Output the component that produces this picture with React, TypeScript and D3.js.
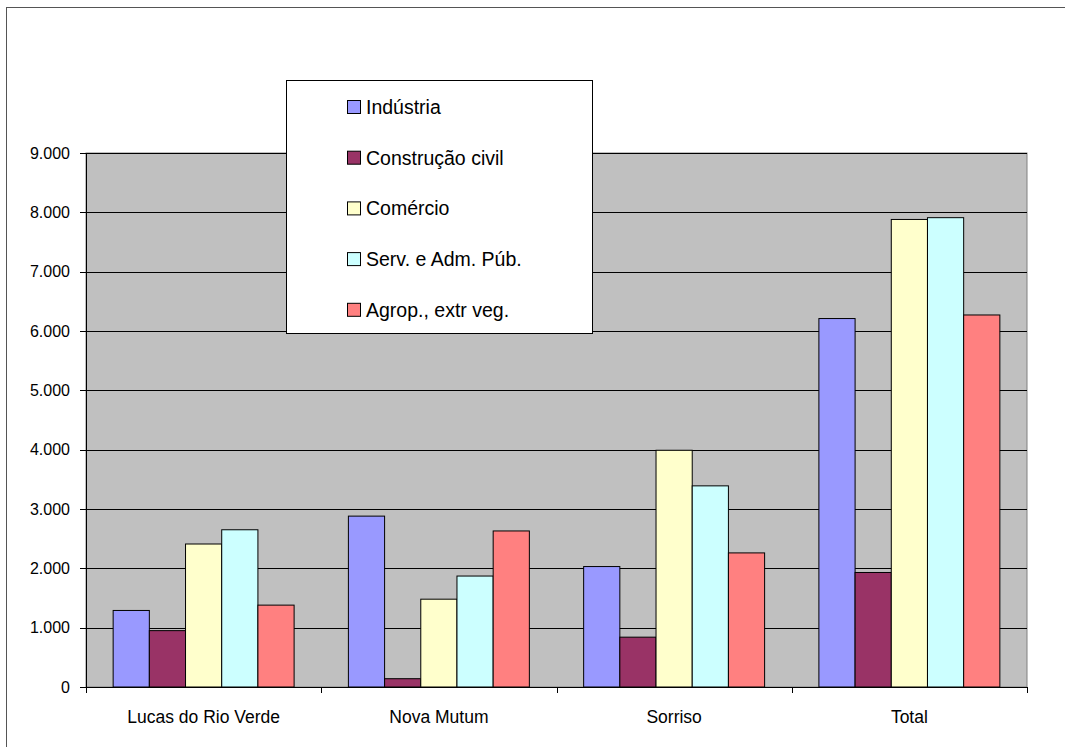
import * as d3 from 'd3';

const categories = ['Lucas do Rio Verde', 'Nova Mutum', 'Sorriso', 'Total'];
const seriesNames = ['Indústria', 'Construção civil', 'Comércio', 'Serv. e Adm. Púb.', 'Agrop., extr veg.'];
const industria = [1290, 2880, 2030, 6210];
const construcao = [950, 140, 840, 1930];
const comercio = [2410, 1480, 3990, 7880];
const servicos = [2650, 1870, 3390, 7910];
const agropecuaria = [1380, 2630, 2260, 6270];
const yTicks = [0, 1000, 2000, 3000, 4000, 5000, 6000, 7000, 8000, 9000];
const colors = ['#9999FF', '#993366', '#FFFFCC', '#CCFFFF', '#FF8080'];

const series = [industria, construcao, comercio, servicos, agropecuaria];
const font = '"Liberation Sans", Arial, sans-serif';

export default function App() {
  const W = 1065;
  const H = 747;
  const plot = { left: 86, right: 1027, top: 153, bottom: 687 };

  const x = d3.scaleBand().domain(categories).range([plot.left, plot.right]);
  // Excel-style gap width of 150%
  const barW = x.bandwidth() / 6.5;
  const y = d3.scaleLinear().domain([0, 9000]).range([plot.bottom, plot.top]);
  const fmt = (v: number) => d3.format(',')(v).replace(/,/g, '.');

  return (
    <div style={{ position: 'absolute', left: 0, top: 0 }}>
      <svg width={W} height={H} style={{ display: 'block', fontFamily: font }}>
        <rect x={0} y={0} width={W} height={H} fill="#fff" />
        {/* outer chart frame */}
        <rect x={6.5} y={7.5} width={W + 20} height={H + 20} fill="#fff" stroke="#555" strokeWidth={1} />

        {/* plot area */}
        <rect x={plot.left} y={plot.top} width={plot.right - plot.left} height={plot.bottom - plot.top}
          fill="#C0C0C0" stroke="#808080" strokeWidth={1} />

        {yTicks.slice(1).map(t => (
          <line key={t} x1={plot.left} x2={plot.right} y1={Math.round(y(t)) + 0.5} y2={Math.round(y(t)) + 0.5}
            stroke="#000" strokeWidth={1} />
        ))}

        {/* bars */}
        {categories.map((c, ci) => (
          <g key={c}>
            {series.map((s, si) => {
              const bx = (x(c) as number) + barW * 0.75 + si * barW;
              return (
                <rect key={si} x={bx} y={y(s[ci])} width={barW} height={plot.bottom - y(s[ci])}
                  fill={colors[si]} stroke="#000" strokeWidth={1} />
              );
            })}
          </g>
        ))}

        {/* axes */}
        <line x1={plot.left + 0.5} x2={plot.left + 0.5} y1={plot.top} y2={plot.bottom} stroke="#000" />
        <line x1={plot.left} x2={plot.right} y1={plot.bottom + 0.5} y2={plot.bottom + 0.5} stroke="#000" />
        {yTicks.map(t => (
          <g key={t}>
            <line x1={plot.left - 6} x2={plot.left} y1={Math.round(y(t)) + 0.5} y2={Math.round(y(t)) + 0.5} stroke="#000" />
            <text x={70} y={y(t)} dy="0.36em" textAnchor="end" fontSize={16} fill="#000">{fmt(t)}</text>
          </g>
        ))}
        {[...categories.map(c => x(c) as number), plot.right].map((v, i) => (
          <line key={i} x1={Math.round(v) + 0.5} x2={Math.round(v) + 0.5} y1={plot.bottom} y2={plot.bottom + 6} stroke="#000" />
        ))}
        {categories.map(c => (
          <text key={c} x={(x(c) as number) + x.bandwidth() / 2} y={723} textAnchor="middle" fontSize={17.5} fill="#000">{c}</text>
        ))}

        {/* legend */}
        <rect x={286.5} y={80.5} width={306} height={253} fill="#fff" stroke="#000" strokeWidth={1} />
        {seriesNames.map((n, i) => {
          const cy = 107 + i * 50.7;
          return (
            <g key={n}>
              <rect x={347.5} y={cy - 6.5} width={13} height={13} fill={colors[i]} stroke="#000" strokeWidth={1} />
              <text x={366} y={cy} dy="0.36em" fontSize={19.5} fill="#000">{n}</text>
            </g>
          );
        })}
      </svg>
    </div>
  );
}
